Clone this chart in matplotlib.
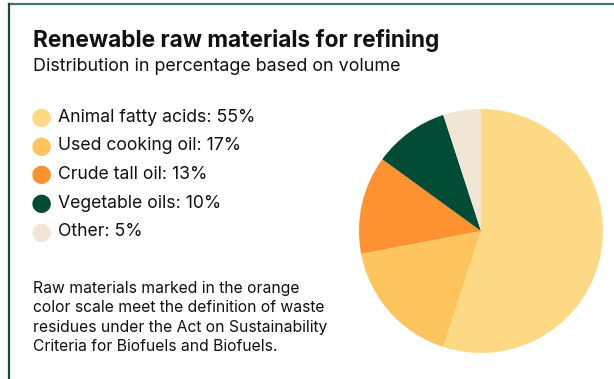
import matplotlib.pyplot as plt
from matplotlib.lines import Line2D

plt.rcParams['font.family'] = ['Inter', 'DejaVu Sans']

labels = ["Animal fatty acids", "Used cooking oil", "Crude tall oil", "Vegetable oils", "Other"]
shares = [55, 17, 13, 10, 5]
colors = ["#FED985", "#FEC45E", "#FE9230", "#024C36", "#F1E6D5"]

W, H = 614, 379
fig = plt.figure(figsize=(W / 100, H / 100), dpi=100)

# frame lines (top and left)
fig.add_artist(Line2D([9 / W, 1], [1 - 4 / H, 1 - 4 / H], color="#3E7A66", lw=1.6))
fig.add_artist(Line2D([9 / W, 9 / W], [0, 1 - 4 / H], color="#0E4E3A", lw=1.6))

fig.text(33 / W, 1 - 47 / H, "Renewable raw materials for refining",
         fontsize=16.3, fontweight="bold", color="#111111")
fig.text(33 / W, 1 - 71 / H, "Distribution in percentage based on volume",
         fontsize=12.9, color="#111111")

# legend rows
for i, (lab, val, c) in enumerate(zip(labels, shares, colors)):
    y = 1 - (117 + i * 28.7) / H
    fig.text(41 / W, y, "\u25CF", fontsize=17.5, color=c, ha="center", va="center",
             family="DejaVu Sans")
    fig.text(58 / W, y, f"{lab}: {val}%", fontsize=12.7, color="#111111", va="center")

note = ("Raw materials marked in the orange\n"
        "color scale meet the definition of waste\n"
        "residues under the Act on Sustainability\n"
        "Criteria for Biofuels and Biofuels.")
fig.text(33 / W, 1 - 281 / H, note, fontsize=11.3, color="#111111", va="top",
         linespacing=1.36)

cx, cy, r = 481, 231, 122
ax = fig.add_axes([(cx - r) / W, (H - cy - r) / H, 2 * r / W, 2 * r / H])
ax.pie(shares, colors=colors, startangle=90, counterclock=False,
       wedgeprops=dict(linewidth=0))
ax.set_xlim(-1, 1)
ax.set_ylim(-1, 1)
ax.set_aspect("auto")
ax.axis("off")

fig.savefig("out.png", dpi=100)
